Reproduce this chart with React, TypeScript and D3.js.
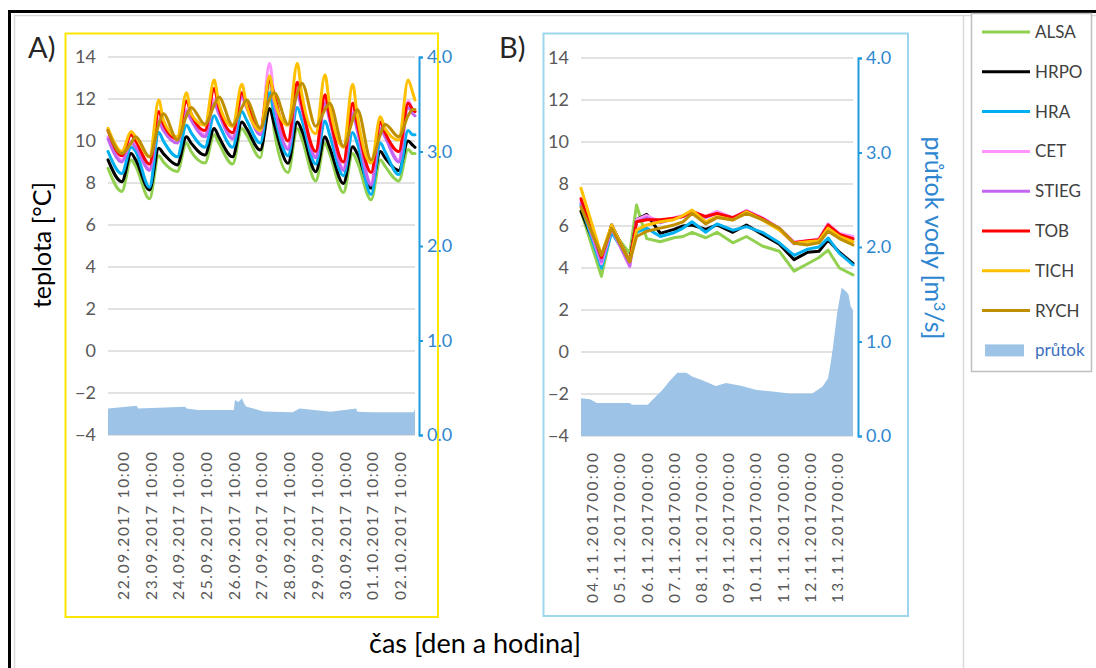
import { useEffect, useRef } from 'react'
import * as d3 from 'd3'

const SERIES = ['ALSA', 'HRPO', 'HRA', 'CET', 'STIEG', 'TOB', 'TICH', 'RYCH']
const COLORS = ['#92D050', '#000000', '#00B0F0', '#FF94FF', '#C266F2', '#FF0000', '#FFC000', '#BF8F00']
const FLOW_LABEL = 'průtok'
const FLOW_COLOR = '#9DC3E6'

const TEMP_TICKS = [-4, -2, 0, 2, 4, 6, 8, 10, 12, 14]
const FLOW_TICKS = [0, 1, 2, 3, 4]

// panel A: hours from 22.09.2017 00:00
const HOURS_A = [-3, 9, 17, 21, 33, 41, 45, 57, 65, 69, 81, 89, 93, 105, 113, 117, 129, 137, 141,
  153, 161, 165, 177, 185, 189, 201, 209, 213, 225, 233, 237, 249, 257, 261, 263]
const ALSA_A = [8.7, 7.6, 9.1, 8.8, 7.25, 9.3, 9.0, 8.55, 9.9, 9.5, 8.95, 10.3, 9.9, 8.9, 10.6, 10.3, 9.2, 13.0, 10.5,
  8.5, 10.6, 10.1, 8.1, 9.9, 9.4, 7.55, 9.4, 9.0, 7.2, 9.1, 8.8, 8.1, 9.6, 9.4, 9.4]
const HRPO_A = [9.1, 8.06, 9.4, 9.1, 7.67, 9.65, 9.4, 8.86, 10.2, 9.9, 9.33, 10.6, 10.2, 9.25, 10.9, 10.6, 9.57, 11.55, 10.8,
  8.94, 10.9, 10.5, 8.54, 10.2, 9.7, 7.98, 9.73, 9.4, 7.75, 9.5, 9.2, 8.6, 10.0, 9.8, 9.7]
const HRA_A = [9.5, 8.45, 9.7, 9.5, 7.8, 10.4, 10.0, 9.25, 10.75, 10.4, 9.7, 11.2, 10.8, 9.7, 11.4, 11.0, 9.9, 12.3, 11.3,
  9.3, 11.6, 11.0, 8.9, 10.95, 10.3, 8.35, 10.4, 9.9, 7.45, 9.9, 9.5, 8.4, 10.5, 10.3, 10.3]
const CET_A = [10.2, 9.1, 10.0, 9.8, 8.7, 11.1, 10.6, 10.0, 11.5, 11.1, 10.3, 12.0, 11.4, 10.2, 12.3, 11.7, 10.4, 13.7, 12.0,
  9.7, 12.5, 11.6, 9.3, 12.0, 11.1, 8.7, 11.5, 10.6, 8.0, 10.8, 10.3, 9.1, 11.9, 11.5, 11.4]
const STIEG_A = [10.1, 9.0, 9.9, 9.7, 8.6, 10.9, 10.5, 9.9, 11.4, 11.0, 10.2, 11.8, 11.3, 10.1, 12.1, 11.6, 10.3, 13.0, 11.8,
  9.6, 12.2, 11.5, 9.2, 11.8, 11.0, 8.6, 11.3, 10.5, 7.9, 10.6, 10.2, 9.0, 11.6, 11.3, 11.2]
const TOB_A = [10.5, 9.3, 10.3, 10.0, 8.9, 11.4, 10.8, 10.1, 11.9, 11.3, 10.5, 12.5, 11.6, 10.4, 12.3, 11.8, 10.6, 12.9, 12.2,
  10.0, 12.8, 11.7, 9.5, 12.2, 11.2, 9.0, 11.8, 10.8, 8.5, 10.9, 10.4, 9.5, 11.8, 11.5, 11.4]
const TICH_A = [10.6, 9.5, 10.45, 10.2, 9.25, 11.95, 11.0, 10.2, 12.3, 11.3, 10.75, 12.9, 11.8, 10.7, 12.7, 11.7, 10.5, 13.1, 12.0,
  10.75, 13.7, 12.2, 10.35, 13.15, 11.7, 9.7, 12.7, 11.2, 8.95, 11.15, 10.6, 10.05, 12.9, 12.3, 11.95]
const RYCH_A = [10.5, 9.4, 9.9, 10.2, 9.25, 10.8, 11.3, 10.05, 11.2, 11.6, 10.8, 11.7, 12.1, 10.75, 11.6, 11.95, 10.6, 12.0, 12.3,
  10.8, 12.3, 12.75, 10.7, 11.5, 11.8, 9.75, 11.0, 11.5, 9.1, 10.3, 10.8, 10.2, 11.2, 11.5, 11.5]

const FLOW_HOURS_A = [-3, 6, 22, 23, 64, 65, 75, 106, 107, 110, 113, 115, 117, 123, 132, 157, 163, 190, 212, 213, 226, 262, 263]
const FLOW_A = [0.28, 0.29, 0.31, 0.28, 0.30, 0.28, 0.265, 0.265, 0.37, 0.35, 0.39, 0.33, 0.30, 0.28, 0.25, 0.24, 0.28, 0.245, 0.28, 0.245, 0.24, 0.24, 0.28]

const LABEL_HOURS_A = [10, 34, 58, 82, 106, 130, 154, 178, 202, 226, 250]
const LABELS_A = ['22.09.2017 10:00', '23.09.2017 10:00', '24.09.2017 10:00', '25.09.2017 10:00', '26.09.2017 10:00',
  '27.09.2017 10:00', '28.09.2017 10:00', '29.09.2017 10:00', '30.09.2017 10:00', '01.10.2017 10:00', '02.10.2017 10:00']

// panel B: hours from 04.11.2017 00:00
const HOURS_B = [-10, 8, 17, 33, 39, 48, 60, 72, 80, 88, 100, 110, 124, 136, 150, 165, 178, 190, 200, 208, 218, 230]
const ALSA_B = [6.7, 3.6, 5.8, 4.7, 7.0, 5.4, 5.25, 5.44, 5.5, 5.7, 5.44, 5.7, 5.2, 5.5, 5.05, 4.8, 3.85, 4.2, 4.5, 4.85, 4.0, 3.67]
const HRPO_B = [6.7, 4.3, 6.05, 4.3, 6.3, 6.55, 5.65, 5.84, 6.0, 6.05, 5.84, 6.05, 5.7, 6.05, 5.6, 5.13, 4.4, 4.75, 4.8, 5.33, 4.75, 4.22]
const HRA_B = [7.0, 4.0, 5.7, 4.3, 5.7, 5.9, 5.5, 5.68, 5.9, 6.2, 5.7, 6.1, 5.8, 5.97, 5.7, 5.2, 4.6, 4.9, 5.0, 5.43, 4.7, 4.15]
const CET_B = [7.2, 4.2, 5.9, 4.05, 6.3, 6.5, 6.2, 6.4, 6.5, 6.7, 6.45, 6.7, 6.4, 6.75, 6.4, 5.9, 5.25, 5.3, 5.4, 6.1, 5.65, 5.5]
const STIEG_B = [7.1, 4.3, 5.9, 4.1, 6.2, 6.4, 6.15, 6.35, 6.45, 6.65, 6.4, 6.6, 6.35, 6.7, 6.35, 5.85, 5.15, 5.25, 5.3, 6.0, 5.55, 5.35]
const TOB_B = [7.3, 4.5, 6.0, 4.3, 6.2, 6.3, 6.3, 6.37, 6.45, 6.7, 6.45, 6.6, 6.4, 6.7, 6.35, 5.85, 5.2, 5.3, 5.35, 6.05, 5.6, 5.4]
const TICH_B = [7.8, 4.62, 6.05, 4.3, 5.8, 6.05, 6.2, 6.3, 6.5, 6.76, 6.2, 6.45, 6.29, 6.68, 6.29, 5.81, 5.18, 5.25, 5.3, 5.9, 5.5, 5.25]
const RYCH_B = [6.9, 4.62, 5.9, 4.3, 5.5, 5.75, 5.9, 6.05, 6.2, 6.6, 6.1, 6.4, 6.29, 6.6, 6.3, 5.9, 5.18, 5.1, 5.2, 5.75, 5.4, 5.1]

const FLOW_HOURS_B = [-10, -2, 4, 33, 35, 49, 53, 62, 68, 75, 83, 88, 97, 109, 118, 132, 144, 159, 174, 194, 203, 208,
  210, 212, 214, 216, 218, 220, 223, 226, 228, 230]
const FLOW_B = [0.40, 0.39, 0.35, 0.35, 0.33, 0.33, 0.38, 0.49, 0.58, 0.67, 0.67, 0.63, 0.59, 0.53, 0.56, 0.53, 0.49, 0.47,
  0.45, 0.45, 0.52, 0.61, 0.75, 0.91, 1.1, 1.3, 1.44, 1.57, 1.54, 1.5, 1.37, 1.33]

const LABEL_HOURS_B = [0, 24, 48, 72, 96, 120, 144, 168, 192, 216]
const LABELS_B = ['04.11.201700:00', '05.11.201700:00', '06.11.201700:00', '07.11.201700:00', '08.11.201700:00',
  '09.11.201700:00', '10.11.201700:00', '11.11.201700:00', '12.11.201700:00', '13.11.201700:00']

const FONT = 'Lato, "Open Sans", sans-serif'
const TICK_GRAY = '#595959'
const AXIS_BLUE = '#1E9BE0'
const LABEL_BLUE = '#2E86D0'

function drawPanel(svg, p) {
  const g = svg.append('g')
  const x = d3.scaleLinear().domain(p.domain).range([p.x0, p.x1])
  const y = d3.scaleLinear().domain([-4, 14]).range([p.yBot, p.yTop])
  const y2 = d3.scaleLinear().domain([0, 4]).range([p.yBot, p.yTop])

  // frame
  g.append('rect')
    .attr('x', p.frame[0]).attr('y', p.frame[1])
    .attr('width', p.frame[2] - p.frame[0]).attr('height', p.frame[3] - p.frame[1])
    .attr('fill', 'none').attr('stroke', p.frameColor).attr('stroke-width', 2)

  g.append('text')
    .attr('x', p.letterX).attr('y', 58)
    .attr('font-size', 29).attr('fill', '#262626')
    .text(p.letter)

  g.selectAll('line.grid')
    .data(TEMP_TICKS)
    .join('line')
    .attr('class', 'grid')
    .attr('x1', p.x0).attr('x2', p.x1)
    .attr('y1', (d) => y(d)).attr('y2', (d) => y(d))
    .attr('stroke', '#d9d9d9').attr('stroke-width', 1.5)

  const flowPts = p.flowHours.map((h, i) => [h, p.flow[i]])
  const area = d3.area()
    .x((d) => x(d[0]))
    .y0(y2(0))
    .y1((d) => y2(d[1]))
  g.append('path').datum(flowPts).attr('fill', FLOW_COLOR).attr('d', area)

  const line = d3.line()
    .x((d) => x(d[0]))
    .y((d) => y(d[1]))
    .curve(p.smooth ? d3.curveMonotoneX : d3.curveLinear)
  p.series.forEach((vals, i) => {
    g.append('path')
      .datum(p.hours.map((h, j) => [h, vals[j]]))
      .attr('fill', 'none')
      .attr('stroke', COLORS[i])
      .attr('stroke-width', 3)
      .attr('stroke-linejoin', 'round')
      .attr('stroke-linecap', 'round')
      .attr('d', line)
  })

  const left = g.append('g')
    .attr('transform', `translate(${p.x0},0)`)
    .call(d3.axisLeft(y).tickValues(TEMP_TICKS).tickSize(0).tickPadding(12))
  left.select('.domain').remove()
  left.selectAll('text').attr('font-size', 18).attr('font-family', FONT).attr('fill', TICK_GRAY)

  const right = g.append('g')
    .attr('transform', `translate(${p.axisX},0)`)
    .call(d3.axisRight(y2).tickValues(FLOW_TICKS).tickSizeInner(4).tickSizeOuter(4).tickPadding(4).tickFormat(d3.format('.1f')))
  right.select('.domain').attr('stroke', AXIS_BLUE).attr('stroke-width', 2)
  right.selectAll('.tick line').attr('stroke', AXIS_BLUE).attr('stroke-width', 2)
  right.selectAll('text').attr('font-size', 18).attr('font-family', FONT).attr('fill', LABEL_BLUE)

  const bottom = g.append('g')
    .attr('transform', `translate(0,${p.yBot})`)
    .call(d3.axisBottom(x).tickValues(p.labelHours).tickSize(0).tickFormat((d, i) => p.labels[i]))
  bottom.select('.domain').remove()
  bottom.selectAll('text')
    .attr('transform', 'rotate(-90)')
    .attr('x', -17).attr('y', 0).attr('dy', '0.35em')
    .attr('text-anchor', 'end')
    .attr('textLength', p.labelLen)
    .attr('font-size', 15.5).attr('font-family', FONT).attr('fill', TICK_GRAY)
}

export default function App() {
  const svgRef = useRef(null)

  useEffect(() => {
    const svg = d3.select(svgRef.current)
    svg.selectAll('*').remove()
    svg.attr('font-family', FONT)

    // outer borders
    svg.append('path').attr('d', 'M14.5,668 V15.5 H1096 M963.5,15.5 V668')
      .attr('fill', 'none').attr('stroke', '#d9d9d9').attr('stroke-width', 1.5)
    svg.append('path').attr('d', 'M9.5,668 V11.5 H1096')
      .attr('fill', 'none').attr('stroke', '#000').attr('stroke-width', 3)

    drawPanel(svg, {
      domain: [-3, 263], x0: 108, x1: 415, axisX: 419, yTop: 57, yBot: 435,
      frame: [65.5, 33.5, 438, 617], frameColor: '#FFE600', letter: 'A)', letterX: 28,
      hours: HOURS_A, smooth: true,
      series: [ALSA_A, HRPO_A, HRA_A, CET_A, STIEG_A, TOB_A, TICH_A, RYCH_A],
      flowHours: FLOW_HOURS_A, flow: FLOW_A,
      labelHours: LABEL_HOURS_A, labels: LABELS_A, labelLen: 148,
    })
    drawPanel(svg, {
      domain: [-10, 230], x0: 581, x1: 853, axisX: 858, yTop: 58, yBot: 436,
      frame: [543.5, 33.5, 908, 616], frameColor: '#9CD6EC', letter: 'B)', letterX: 499,
      hours: HOURS_B, smooth: false,
      series: [ALSA_B, HRPO_B, HRA_B, CET_B, STIEG_B, TOB_B, TICH_B, RYCH_B],
      flowHours: FLOW_HOURS_B, flow: FLOW_B,
      labelHours: LABEL_HOURS_B, labels: LABELS_B, labelLen: 150,
    })

    // axis titles
    svg.append('text')
      .attr('transform', 'translate(51,245) rotate(-90)')
      .attr('text-anchor', 'middle').attr('font-size', 25).attr('fill', '#000')
      .text('teplota [°C]')
    const rt = svg.append('text')
      .attr('transform', 'translate(925,238) rotate(90)')
      .attr('text-anchor', 'middle').attr('font-size', 25).attr('fill', LABEL_BLUE)
    rt.append('tspan').text('průtok vody [m')
    rt.append('tspan').attr('baseline-shift', 'super').attr('font-size', 16).text('3')
    rt.append('tspan').text('/s]')
    svg.append('text')
      .attr('x', 475).attr('y', 653)
      .attr('text-anchor', 'middle').attr('font-size', 27).attr('fill', '#000')
      .text('čas [den a hodina]')

    // legend
    const lg = svg.append('g')
    lg.append('rect').attr('x', 971.5).attr('y', 13.5).attr('width', 120).attr('height', 358)
      .attr('fill', '#fff').attr('stroke', '#bfbfbf').attr('stroke-width', 1.5)
    SERIES.forEach((name, i) => {
      const yy = 32 + i * 39.8
      lg.append('line').attr('x1', 982).attr('x2', 1030).attr('y1', yy).attr('y2', yy)
        .attr('stroke', COLORS[i]).attr('stroke-width', 3)
      lg.append('text').attr('x', 1035).attr('y', yy).attr('dy', '0.35em')
        .attr('font-size', 17).attr('fill', '#404040').text(name)
    })
    const fy = 32 + 8 * 39.8
    lg.append('rect').attr('x', 985).attr('y', fy - 6).attr('width', 39).attr('height', 12).attr('fill', FLOW_COLOR)
    lg.append('text').attr('x', 1035).attr('y', fy).attr('dy', '0.35em')
      .attr('font-size', 17).attr('fill', '#3A6FC0').text(FLOW_LABEL)
  }, [])

  return <svg ref={svgRef} width={1096} height={668} style={{ position: 'absolute', left: 0, top: 0, background: '#fff' }} />
}
